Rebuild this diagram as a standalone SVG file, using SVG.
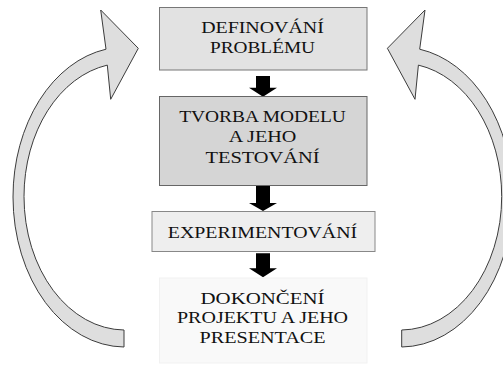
<svg xmlns="http://www.w3.org/2000/svg" xmlns:xlink="http://www.w3.org/1999/xlink" width="503" height="365" viewBox="0 0 503 365">
  <style>
    .box1 { fill: #e2e2e2; stroke: #777; stroke-width: 1; }
    .box2 { fill: #d5d5d5; stroke: #666; stroke-width: 1; }
    .box3 { fill: #eeeeee; stroke: #888; stroke-width: 1; }
    .box4 { fill: #f9f9f9; stroke: #f1f1f1; stroke-width: 1; }
    .label { font-family: "Liberation Serif", "Times New Roman", serif; font-size: 16px; fill: #111; text-anchor: middle; }
    .step { fill: #000; }
    .loop { fill: #dedede; stroke: #3c3c3c; stroke-width: 1; stroke-linejoin: miter; }
  </style>
  <defs>
    <!-- curved feedback arrow, left-hand version; the right one is its mirror.
         Outer edge: ellipse c(125,197) r(112,150); inner edge: c(125,196.5) r(101,133.5) -->
    <path id="loopArrow" d="M124,347 A112,150 0 0 1 13,197 A112,150 0 0 1 106,49.2 L100.7,10 L138.3,48.3 L110.7,99.3 L107.3,65.1 A101,133.5 0 0 0 24,196.5 A101,133.5 0 0 0 124,330 Z"/>
  </defs>

  <g id="connectors">
    <use xlink:href="#loopArrow" class="loop"/>
    <use xlink:href="#loopArrow" class="loop" transform="matrix(-1,0,0,1,525.7,0)"/>
    <path class="step" d="M256,76 H270 V87.7 H277 L263,96.7 L249,87.7 H256 Z"/>
    <path class="step" d="M256,186 H270 V203 H277 L263,211 L249,203 H256 Z"/>
    <path class="step" d="M256,253.3 H270 V268.3 H277 L263,277.3 L249,268.3 H256 Z"/>
  </g>

  <g id="definovani">
    <rect class="box1" x="159.5" y="7.5" width="207.5" height="62.5"/>
    <text class="label" x="262.5" y="33.3" textLength="122.7" lengthAdjust="spacingAndGlyphs">DEFINOVÁNÍ</text>
    <text class="label" x="262.5" y="53.3" textLength="105" lengthAdjust="spacingAndGlyphs">PROBLÉMU</text>
  </g>

  <g id="tvorba">
    <rect class="box2" x="159.5" y="96.5" width="207.5" height="89"/>
    <text class="label" x="262.5" y="121.7" textLength="166.7" lengthAdjust="spacingAndGlyphs">TVORBA MODELU</text>
    <text class="label" x="262.5" y="142.3" textLength="67.7" lengthAdjust="spacingAndGlyphs">A JEHO</text>
    <text class="label" x="262.5" y="163.3" textLength="114" lengthAdjust="spacingAndGlyphs">TESTOVÁNÍ</text>
  </g>

  <g id="experimentovani">
    <rect class="box3" x="152" y="211.5" width="223" height="40"/>
    <text class="label" x="262.5" y="237.7" textLength="189.3" lengthAdjust="spacingAndGlyphs">EXPERIMENTOVÁNÍ</text>
  </g>

  <g id="dokonceni">
    <rect class="box4" x="159.5" y="278" width="207.5" height="85"/>
    <text class="label" x="262.5" y="304.3" textLength="124" lengthAdjust="spacingAndGlyphs">DOKONČENÍ</text>
    <text class="label" x="262.5" y="323.3" textLength="171" lengthAdjust="spacingAndGlyphs">PROJEKTU A JEHO</text>
    <text class="label" x="262.5" y="343.3" textLength="126" lengthAdjust="spacingAndGlyphs">PRESENTACE</text>
  </g>
</svg>
